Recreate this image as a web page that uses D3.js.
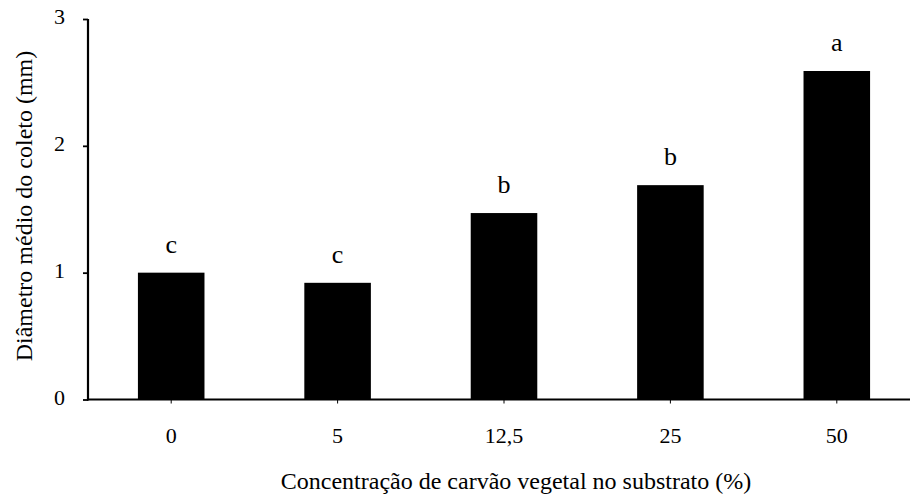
<!DOCTYPE html>
<html><head><meta charset="utf-8">
<script src="https://cdn.jsdelivr.net/npm/d3@7"></script>
</head><body style="margin:0;background:#fff">
<svg id="c" width="910" height="495" style="display:block" font-family="Times New Roman"></svg>
<script>
const categories = ["0", "5", "12,5", "25", "50"];
const values = [1.00, 0.92, 1.47, 1.69, 2.59];
const letters = ["c", "c", "b", "b", "a"];
const yTicks = [0, 1, 2, 3];
const xTitle = "Concentração de carvão vegetal no substrato (%)";
const yTitle = "Diâmetro médio do coleto (mm)";

const FONT = "Times New Roman";
const svg = d3.select("#c");
const x = d3.scaleBand().domain(categories).range([88, 920]).paddingInner(0.6).paddingOuter(0.3);
const y = d3.scaleLinear().domain([0, 3]).range([399.5, 19]);

svg.selectAll("rect.bar").data(values).join("rect")
  .attr("class","bar")
  .attr("x",(d,i)=>x(categories[i]))
  .attr("width",x.bandwidth())
  .attr("y",d=>y(d))
  .attr("height",d=>y(0)-y(d))
  .attr("fill","#000");

svg.selectAll("text.let").data(values).join("text")
  .attr("class","let")
  .attr("x",(d,i)=>x(categories[i])+x.bandwidth()/2)
  .attr("y",d=>y(d)-20)
  .attr("text-anchor","middle")
  .attr("font-size",26)
  .text((d,i)=>letters[i]);

const ya = svg.append("g").attr("transform","translate(88,0)")
  .call(d3.axisLeft(y).tickValues(yTicks).tickFormat(d3.format("d")).tickSize(5).tickPadding(18));
ya.attr("font-family", FONT).attr("font-size", 22);
ya.select(".domain").remove();
ya.selectAll("line").attr("stroke","#000").attr("stroke-width",1.8);
ya.selectAll("text").attr("font-size",22).attr("dy","0.22em").attr("fill","#000");
svg.append("line").attr("x1",88).attr("x2",88).attr("y1",y(3)).attr("y2",y(0)+1).attr("stroke","#000").attr("stroke-width",2.2);

const xa = svg.append("g").attr("transform",`translate(0,${y(0)})`)
  .call(d3.axisBottom(x).tickSize(4).tickPadding(24));
xa.attr("font-family", FONT).attr("font-size", 22);
xa.select(".domain").remove();
xa.selectAll("line").attr("stroke","#000").attr("stroke-width",1);
xa.selectAll("text").attr("font-size",22).attr("fill","#000");
svg.append("line").attr("x1",87).attr("x2",910).attr("y1",y(0)).attr("y2",y(0)).attr("stroke","#000").attr("stroke-width",2.2);

svg.append("text").attr("x",516).attr("y",489).attr("text-anchor","middle").attr("font-size",24).text(xTitle);
svg.append("text").attr("transform","translate(32,206) rotate(-90)").attr("text-anchor","middle").attr("font-size",24).text(yTitle);

svg.selectAll("text").attr("font-family", FONT);
</script>
</body></html>
